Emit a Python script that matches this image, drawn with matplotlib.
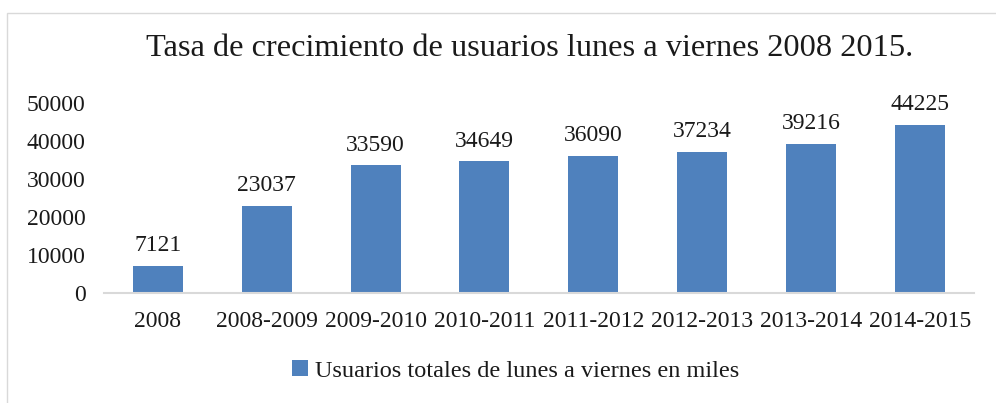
import matplotlib.pyplot as plt
from matplotlib.patches import Rectangle

categories = ['2008', '2008-2009', '2009-2010', '2010-2011', '2011-2012',
              '2012-2013', '2013-2014', '2014-2015']
usuarios = [7121, 23037, 33590, 34649, 36090, 37234, 39216, 44225]
yticks = [0, 10000, 20000, 30000, 40000, 50000]

plt.rcParams['font.family'] = ['Liberation Serif', 'DejaVu Serif']

fig = plt.figure(figsize=(9.96, 4.03), dpi=100)
ax = fig.add_axes([0.104, 0.273, 0.874, 0.471])

# chart border
fig.patches.append(Rectangle((7 / 996, -0.01), 1.0, 1 - 13 / 403 + 0.01,
                             transform=fig.transFigure, fill=False,
                             edgecolor='#d9d9d9', linewidth=1))

bars = ax.bar(categories, usuarios, width=0.46, color='#4f81bd',
              label='Usuarios totales de lunes a viernes en miles')
for b, v in zip(bars, usuarios):
    ax.annotate(str(v), (b.get_x() + b.get_width() / 2, v),
                xytext=(0, 7), textcoords='offset points',
                ha='center', va='bottom', fontsize=17, color='#1a1a1a')

ax.set_ylim(0, 50000)
ax.set_xlim(-0.5, len(categories) - 0.5)
ax.set_yticks(yticks)
ax.set_yticklabels([str(t) for t in yticks])
for s in ['top', 'right', 'left']:
    ax.spines[s].set_visible(False)
ax.spines['bottom'].set_color('#d9d9d9')
ax.spines['bottom'].set_linewidth(1.5)
ax.tick_params(axis='both', length=0, labelsize=17, colors='#1a1a1a')
ax.tick_params(axis='x', pad=13)
ax.tick_params(axis='y', pad=13)

fig.text(0.532, 0.88, 'Tasa de crecimiento de usuarios lunes a viernes 2008 2015.',
         ha='center', va='center', fontsize=23.3, color='#1a1a1a')

fig.legend(loc='center', bbox_to_anchor=(0.518, 0.08), frameon=False,
           fontsize=17.5, handlelength=0.65, handleheight=0.65, handletextpad=0.3,
           labelcolor='#1a1a1a')

fig.savefig('out.png', dpi=100)
